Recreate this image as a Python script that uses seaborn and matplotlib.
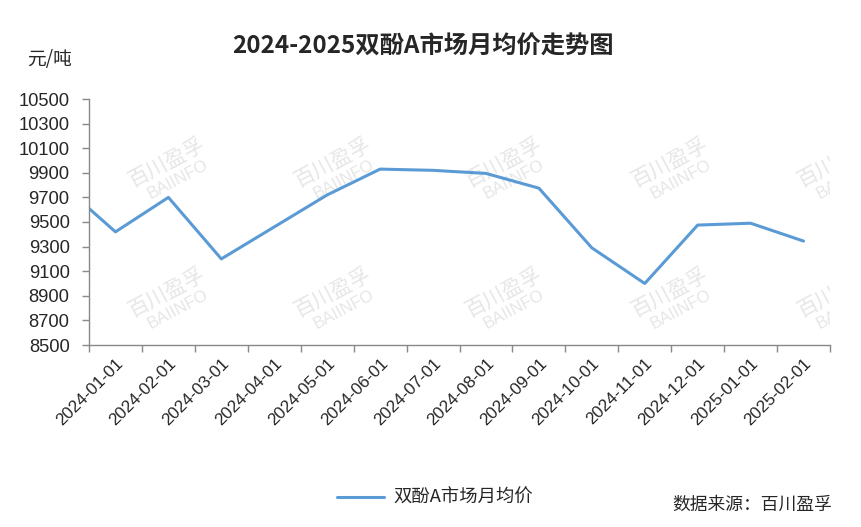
import numpy as np
import pandas as pd
import seaborn as sns
import matplotlib
matplotlib.use("Agg")
import matplotlib.pyplot as plt

# 数据
months = ["2024-01-01", "2024-02-01", "2024-03-01", "2024-04-01", "2024-05-01",
          "2024-06-01", "2024-07-01", "2024-08-01", "2024-09-01", "2024-10-01",
          "2024-11-01", "2024-12-01", "2025-01-01", "2025-02-01"]
start_price = 9610   # 左边缘起点
prices = [9420, 9700, 9200, 9460, 9720, 9930, 9920, 9895, 9775, 9290,
          9000, 9475, 9490, 9345]
y_ticks = [8500, 8700, 8900, 9100, 9300, 9500, 9700, 9900, 10100, 10300, 10500]

series_name = "双酚A市场月均价"
title = "2024-2025双酚A市场月均价走势图"
source = "数据来源：百川盈孚"

sns.set_theme(style="white")
plt.rcParams["font.family"] = ["Noto Sans CJK SC", "DejaVu Sans"]

df = pd.DataFrame({
    "pos": [-0.5] + list(range(len(months))),
    "price": [start_price] + prices,
})

fig = plt.figure(figsize=(8.61, 5.27), dpi=100)
ax = fig.add_axes([89 / 861, 1 - 345 / 527, (830 - 89) / 861, (345 - 99) / 527])

sns.lineplot(data=df, x="pos", y="price", color="#5B9BD5", linewidth=2.2,
             ax=ax, label=series_name)

# 坐标轴
ax.set_xlim(-0.5, len(months) - 0.5)
ax.set_ylim(8500, 10500)
ax.set_yticks(y_ticks)
ax.set_yticklabels([str(v) for v in y_ticks], fontsize=13.2, family="Liberation Sans")
ax.set_xticks(np.arange(-0.5, len(months), 1))
ax.set_xticklabels([])
ax.set_xticks(range(len(months)), minor=True)
ax.set_xticklabels(months, minor=True, rotation=45, ha="right",
                   rotation_mode="anchor", fontsize=12.3, family="Liberation Sans")
ax.tick_params(axis="x", which="major", direction="out", length=5, color="#898989",
               bottom=True, width=1)
ax.tick_params(axis="x", which="minor", length=0, pad=8)
ax.tick_params(axis="y", direction="out", length=5, color="#898989", left=True,
               width=1, pad=9)
for s in ["top", "right"]:
    ax.spines[s].set_visible(False)
for s in ["left", "bottom"]:
    ax.spines[s].set_color("#898989")
    ax.spines[s].set_linewidth(1)
ax.set_xlabel("")
ax.set_ylabel("")
ax.grid(False)

# 水印
for xf in [0.105, 0.329, 0.559, 0.784, 1.008]:
    for yf in [0.724, 0.195]:
        ax.text(xf, yf + 0.02, "百川盈孚", transform=ax.transAxes, rotation=28,
                ha="center", va="center", fontsize=15, color="#e6e6e6",
                clip_on=True, zorder=0)
        ax.text(xf + 0.015, yf - 0.05, "BAIINFO", transform=ax.transAxes, rotation=28,
                ha="center", va="center", fontsize=12, color="#e6e6e6",
                clip_on=True, zorder=0, family="Liberation Sans")

# 文字
fig.text(423 / 861, 1 - 47 / 527, title, ha="center", va="center", fontsize=17.5,
         fontweight="bold")
fig.text(50 / 861, 1 - 60 / 527, "元/吨", ha="center", va="center", fontsize=13.5)
fig.text(832 / 861, 1 - 505 / 527, source, ha="right", va="center", fontsize=12.8)

ax.legend(loc="center", bbox_to_anchor=(435 / 861, 1 - 498 / 527),
          bbox_transform=fig.transFigure, frameon=False, fontsize=13.2,
          handlelength=2.6, handletextpad=0.5)

fig.savefig("out.png", dpi=100)
